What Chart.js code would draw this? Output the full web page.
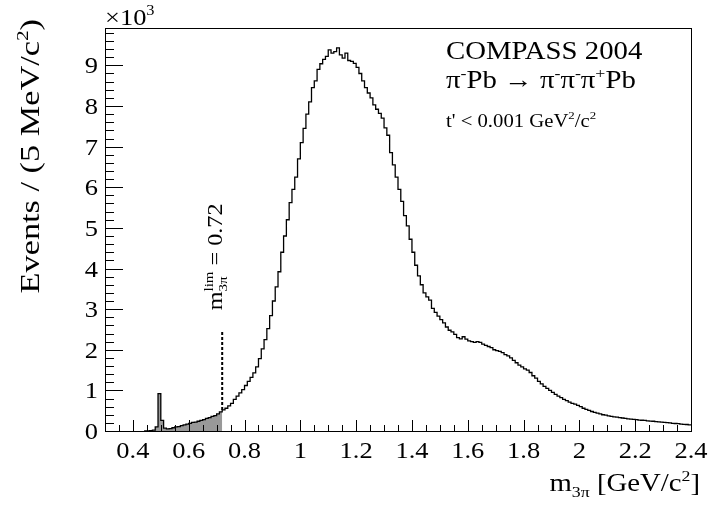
<!DOCTYPE html>
<html>
<head>
<meta charset="utf-8">
<script src="https://cdn.jsdelivr.net/npm/chart.js@4.4.1/dist/chart.umd.min.js"></script>
<style>
  html, body { margin: 0; padding: 0; background: #fff; }
</style>
</head>
<body>
<canvas id="myChart" width="710" height="507"></canvas>
<script>
const binStart = 0.44
const binWidth = 0.01
const eventsK = [
    0, 0.005, 0.01, 0.02, 0.10, 0.92, 0.26, 0.07, 0.05, 0.06,
    0.08, 0.10, 0.11, 0.13, 0.15, 0.17, 0.19, 0.21, 0.22, 0.24,
    0.26, 0.28, 0.31, 0.33, 0.36, 0.38, 0.42, 0.47, 0.52, 0.56,
    0.62, 0.68, 0.78, 0.86, 0.94, 1.02, 1.12, 1.22, 1.32, 1.43,
    1.58, 1.78, 2.02, 2.25, 2.52, 2.84, 3.20, 3.55, 3.92, 4.40,
    4.80, 5.20, 5.62, 5.95, 6.25, 6.70, 7.10, 7.45, 7.80, 8.10,
    8.45, 8.62, 8.90, 9.04, 9.15, 9.22, 9.38, 9.30, 9.34, 9.43,
    9.26, 9.18, 9.30, 9.12, 9.10, 9.05, 8.95, 8.80, 8.62, 8.45,
    8.32, 8.20, 8.03, 7.92, 7.82, 7.70, 7.46, 7.28, 6.85, 6.55,
    6.25, 5.95, 5.65, 5.30, 5.05, 4.72, 4.40, 4.08, 3.82, 3.60,
    3.40, 3.30, 3.22, 3.02, 2.92, 2.83, 2.74, 2.66, 2.56, 2.48,
    2.44, 2.38, 2.30, 2.27, 2.32, 2.26, 2.22, 2.20, 2.18, 2.20,
    2.18, 2.14, 2.11, 2.08, 2.05, 2.00, 1.98, 1.96, 1.93, 1.88,
    1.85, 1.80, 1.74, 1.68, 1.62, 1.58, 1.53, 1.50, 1.44, 1.36,
    1.30, 1.22, 1.16, 1.10, 1.05, 1.00, 0.95, 0.90, 0.86, 0.82,
    0.78, 0.75, 0.71, 0.68, 0.66, 0.63, 0.60, 0.56, 0.53, 0.51,
    0.48, 0.46, 0.44, 0.42, 0.40, 0.39, 0.37, 0.36, 0.35, 0.34,
    0.33, 0.32, 0.31, 0.30, 0.29, 0.285, 0.28, 0.27, 0.265, 0.26,
    0.25, 0.245, 0.24, 0.23, 0.225, 0.22, 0.21, 0.205, 0.20, 0.19,
    0.185, 0.18, 0.17, 0.165, 0.16, 0.15
]
const limMass = 0.72
const dashTopK = 2.48
const xTicks = [0.4, 0.6, 0.8, 1, 1.2, 1.4, 1.6, 1.8, 2, 2.2, 2.4]
const yTicks = [0, 1, 2, 3, 4, 5, 6, 7, 8, 9]
const xMin = 0.3
const xMax = 2.4
const yMax = 9.92

const FONT = '"Liberation Serif", "Times New Roman", serif'

// histogram points at bin starts, closed at the last edge
const histPts = eventsK.map((v, i) => ({ x: +(binStart + i * binWidth).toFixed(3), y: v }))
histPts.push({ x: +(binStart + eventsK.length * binWidth).toFixed(3), y: eventsK[eventsK.length - 1] })

const shadePts = histPts.filter(p => p.x < limMass - 1e-6)
shadePts.push({ x: limMass, y: shadePts[shadePts.length - 1].y })

function segW(ctx, sg, size) {
    if (sg.k === 'ss') {
        ctx.font = (size * 0.62) + 'px ' + FONT
        return Math.max(ctx.measureText(sg.sup).width, ctx.measureText(sg.sub).width)
    }
    ctx.font = (sg.k ? size * 0.62 : size) + 'px ' + FONT
    return ctx.measureText(sg.t).width
}

function drawRich(ctx, segs, x, y, size, align, angle, sx) {
    ctx.save()
    ctx.translate(x, y)
    if (angle) ctx.rotate(angle)
    ctx.scale(sx || 1.15, 1)
    let w = 0
    segs.forEach(sg => { w += segW(ctx, sg, size) })
    let cx = align === 'right' ? -w : align === 'center' ? -w / 2 : 0
    ctx.fillStyle = '#000'
    ctx.textBaseline = 'alphabetic'
    ctx.textAlign = 'left'
    segs.forEach(sg => {
        const sw = segW(ctx, sg, size)
        if (sg.k === 'ss') {
            ctx.font = (size * 0.62) + 'px ' + FONT
            ctx.fillText(sg.sup, cx, -size * 0.42)
            ctx.fillText(sg.sub, cx, size * 0.22)
        } else {
            ctx.font = (sg.k ? size * 0.62 : size) + 'px ' + FONT
            const dy = sg.k === 'sup' ? -size * 0.42 : sg.k === 'sub' ? size * 0.22 : 0
            ctx.fillText(sg.t, cx, dy)
        }
        cx += sw
    })
    ctx.restore()
}

const framePlugin = {
    id: 'frame',
    afterDraw(chart) {
        const ctx = chart.ctx
        const a = chart.chartArea
        const xs = chart.scales.x
        const ys = chart.scales.y
        ctx.save()
        ctx.strokeStyle = '#000'
        ctx.lineWidth = 1
        ctx.strokeRect(Math.round(a.left) + 0.5, Math.round(a.top) + 0.5,
            Math.round(a.right - a.left), Math.round(a.bottom - a.top))
        // x ticks (inward)
        ctx.beginPath()
        for (let i = 0; i <= 42; i++) {
            const v = xMin + i * 0.05
            const px = Math.round(xs.getPixelForValue(v)) + 0.5
            const major = xTicks.some(t => Math.abs(t - v) < 1e-6)
            ctx.moveTo(px, a.bottom)
            ctx.lineTo(px, a.bottom - (major ? 11 : 6))
        }
        // y ticks (inward)
        for (let i = 0; i <= 49; i++) {
            const v = i * 0.2
            const py = Math.round(ys.getPixelForValue(v)) + 0.5
            const major = yTicks.some(t => Math.abs(t - v) < 1e-6)
            ctx.moveTo(a.left, py)
            ctx.lineTo(a.left + (major ? 18 : 9), py)
        }
        ctx.stroke()
        ctx.restore()

        xTicks.forEach(v => {
            drawRich(ctx, [{ t: String(v) }], xs.getPixelForValue(v), a.bottom + 27, 23, 'center')
        })
        yTicks.forEach(v => {
            drawRich(ctx, [{ t: String(v) }], a.left - 7, ys.getPixelForValue(v) + 8, 23, 'right')
        })
        drawRich(ctx, [{ t: '×10' }, { t: '3', k: 'sup' }], a.left, 25, 23, 'left')

        drawRich(ctx, [{ t: 'm' }, { t: '3π', k: 'sub' }, { t: ' [GeV/c' }, { t: '2', k: 'sup' }, { t: ']' }],
            700, 491, 25, 'right')
        drawRich(ctx, [{ t: 'Events / (5 MeV/c' }, { t: '2', k: 'sup' }, { t: ')' }],
            39, 19, 27, 'right', -Math.PI / 2, 1.27)

        drawRich(ctx, [{ t: 'COMPASS 2004' }], 446, 59, 25, 'left')
        drawRich(ctx, [{ t: 'π' }, { t: '-', k: 'sup' }, { t: 'Pb → π' }, { t: '-', k: 'sup' }, { t: 'π' },
            { t: '-', k: 'sup' }, { t: 'π' }, { t: '+', k: 'sup' }, { t: 'Pb' }], 446, 88, 25, 'left')
        drawRich(ctx, [{ t: "t' < 0.001 GeV" }, { t: '2', k: 'sup' }, { t: '/c' }, { t: '2', k: 'sup' }],
            446, 127, 18, 'left')

        drawRich(ctx, [{ t: 'm' }, { k: 'ss', sup: 'lim', sub: '3π' }, { t: ' = 0.72' }],
            xs.getPixelForValue(limMass), ys.getPixelForValue(dashTopK) - 20, 21, 'left', -Math.PI / 2)
    }
}

const ctx = document.getElementById('myChart')
const chart = new Chart(ctx, {
    type: 'line',
    data: {
        datasets: [{
            data: histPts,
            stepped: true,
            borderColor: '#000',
            borderWidth: 1.3,
            pointRadius: 0,
            fill: false
        }, {
            data: [{ x: limMass, y: 0.52 }, { x: limMass, y: dashTopK }],
            borderColor: '#000',
            borderWidth: 2,
            borderDash: [3, 2],
            pointRadius: 0,
            fill: false
        }, {
            data: shadePts,
            stepped: true,
            borderColor: 'rgba(0,0,0,0)',
            borderWidth: 1,
            backgroundColor: '#999999',
            pointRadius: 0,
            fill: 'origin'
        }]
    },
    options: {
        responsive: false,
        animation: false,
        devicePixelRatio: 1,
        layout: { padding: { top: 28, right: 19, left: 0, bottom: 0 } },
        plugins: { legend: { display: false }, tooltip: { enabled: false } },
        scales: {
            x: {
                type: 'linear',
                min: xMin,
                max: xMax,
                grid: { display: false },
                border: { display: false },
                ticks: { display: false },
                afterFit(s) { s.height = 76 }
            },
            y: {
                min: 0,
                max: yMax,
                grid: { display: false },
                border: { display: false },
                ticks: { display: false },
                afterFit(s) { s.width = 105 }
            }
        }
    },
    plugins: [framePlugin]
})
</script>
</body>
</html>
